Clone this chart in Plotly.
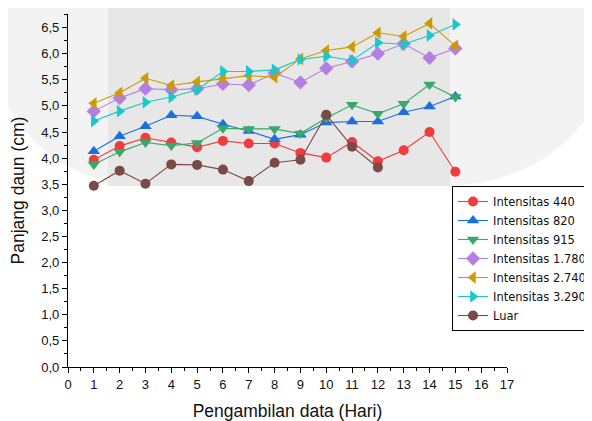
import plotly.graph_objects as go

# ---- data ----
days = list(range(1, 16))
days_luar = list(range(1, 13))

int_440 = [3.97, 4.23, 4.39, 4.30, 4.21, 4.33, 4.28, 4.28, 4.10, 4.01, 4.31, 3.94, 4.15, 4.50, 3.74]
int_820 = [4.13, 4.42, 4.61, 4.82, 4.80, 4.65, 4.52, 4.36, 4.45, 4.68, 4.70, 4.70, 4.88, 4.99, 5.18]
int_915 = [3.88, 4.12, 4.30, 4.24, 4.29, 4.57, 4.56, 4.56, 4.47, 4.77, 5.02, 4.85, 5.04, 5.41, 5.17]
int_1780 = [4.90, 5.15, 5.33, 5.31, 5.33, 5.42, 5.40, 5.63, 5.45, 5.72, 5.85, 6.00, 6.19, 5.92, 6.10]
int_2740 = [5.05, 5.25, 5.53, 5.39, 5.46, 5.52, 5.58, 5.55, 5.90, 6.06, 6.13, 6.40, 6.33, 6.58, 6.15]
int_3290 = [4.71, 4.90, 5.07, 5.17, 5.31, 5.66, 5.66, 5.69, 5.89, 5.95, 5.87, 6.21, 6.18, 6.35, 6.56]
luar = [3.47, 3.76, 3.51, 3.88, 3.87, 3.78, 3.56, 3.91, 3.97, 4.83, 4.22, 3.82]

names = ["Intensitas 440", "Intensitas 820", "Intensitas 915", "Intensitas 1.780",
         "Intensitas 2.740", "Intensitas 3.290", "Luar"]

x_tick_vals = list(range(0, 18))
y_tick_vals = [i * 0.5 for i in range(14)]

# ---- style ----
series = [
    (days, int_440, "#f03c3f", "circle", 10),
    (days, int_820, "#1c6fdc", "triangle-up", 11),
    (days, int_915, "#38a96a", "triangle-down", 11),
    (days, int_1780, "#b47ee2", "diamond", 11),
    (days, int_2740, "#cf9a00", "triangle-left", 11),
    (days, int_3290, "#19c8c8", "triangle-right", 11),
    (days_luar, luar, "#7a4a46", "circle", 10),
]

# page body has an 8px default margin; figure is sized to compensate
OFF = 8
W, H = 592 - OFF, 421 - OFF
L, R, T, B = 68 - OFF, 85, 14 - OFF, 54
pw, ph = W - L - R, H - T - B


def px(x, y):
    # page pixel -> paper coordinates
    return (x - OFF - L) / pw, (H - B - (y - OFF)) / ph


def path(points_cmds):
    out = []
    for cmd, pts in points_cmds:
        coords = []
        for (x, y) in pts:
            a, b = px(x, y)
            coords.append(f"{a:.4f},{b:.4f}")
        out.append(cmd + " " + " ".join(coords))
    return " ".join(out) + " Z"


outer = path([
    ("M", [(-10, -10)]),
    ("L", [(-10, 75)]),
    ("C", [(25, 150), (75, 185), (150, 186)]),
    ("L", [(440, 186)]),
    ("C", [(520, 186), (570, 150), (602, 95)]),
    ("L", [(602, -10)]),
])
band = path([
    ("M", [(108, -10)]),
    ("L", [(108, 186)]),
    ("L", [(450, 186)]),
    ("L", [(450, -10)]),
])

fig = go.Figure()
for (xs, ys, col, sym, sz), nm in zip(series, names):
    fig.add_trace(go.Scatter(
        x=xs, y=ys, name=nm, mode="lines+markers",
        line=dict(color=col, width=1.1),
        marker=dict(symbol=sym, size=sz, color=col),
    ))

fig.update_layout(
    width=W, height=H,
    margin=dict(l=L, r=R, t=T, b=B, autoexpand=False),
    paper_bgcolor="white",
    plot_bgcolor="rgba(0,0,0,0)",
    separators=",.",
    font=dict(family="Liberation Sans, Arial, sans-serif", color="#111", size=13),
    shapes=[
        dict(type="path", path=outer, xref="paper", yref="paper", layer="below",
             fillcolor="#f3f3f3", line=dict(width=0)),
        dict(type="path", path=band, xref="paper", yref="paper", layer="below",
             fillcolor="#e7e7e7", line=dict(width=0)),
    ],
    legend=dict(
        x=(452 - 68) / 439, y=(367 - 186) / 353, xanchor="left", yanchor="top",
        bgcolor="white", bordercolor="black", borderwidth=1,
        font=dict(family="DejaVu Sans, sans-serif", size=11.5, color="#111"),
        tracegroupgap=0,
    ),
    xaxis=dict(
        range=[0, 17], tickvals=x_tick_vals, ticktext=[str(v) for v in x_tick_vals],
        showgrid=False, zeroline=False, showline=True, linecolor="black", linewidth=1.3,
        ticks="outside", ticklen=5, tickwidth=1.3, tickcolor="black",
        minor=dict(dtick=0.5, ticks="outside", ticklen=3, tickcolor="black", tickwidth=1),
        title=dict(text="Pengambilan data (Hari)", font=dict(size=17.5)),
    ),
    yaxis=dict(
        range=[0, 6.76], tickvals=y_tick_vals, tickformat=".1f",
        showgrid=False, zeroline=False, showline=True, linecolor="black", linewidth=1.3,
        ticks="outside", ticklen=5, tickwidth=1.3, tickcolor="black",
        minor=dict(dtick=0.25, ticks="outside", ticklen=3, tickcolor="black", tickwidth=1),
        title=dict(text="Panjang daun (cm)", font=dict(size=17.5)),
    ),
)

fig.write_html("out.html")
